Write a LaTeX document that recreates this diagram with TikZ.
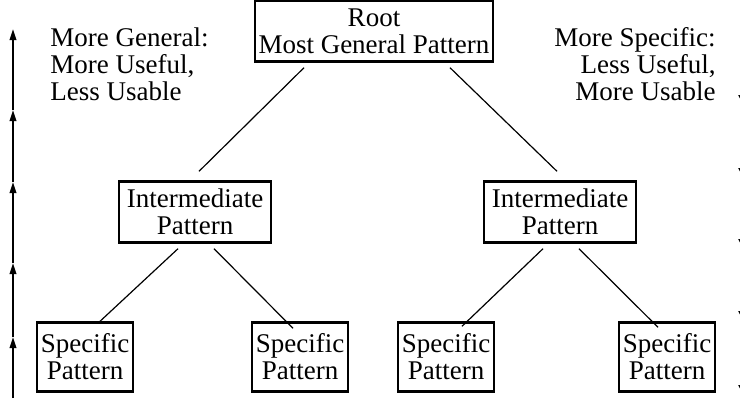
\documentclass[tikz,border=0pt]{standalone}
\usepackage{fontspec}
\setmainfont{Liberation Serif}
\usetikzlibrary{arrows.meta, calc}
\tikzset{
  box/.style={
    rectangle, draw, line width=1.2pt, inner sep=0pt,
    align=center, font=\fontsize{13.5}{13.5}\selectfont
  },
  rootbox/.style={box, minimum width=119pt, minimum height=30.5pt},
  midbox/.style={box, minimum width=76pt, minimum height=30.5pt},
  specbox/.style={box, minimum width=48pt, minimum height=34.5pt},
  lnk/.style={line width=0.6pt},
  arr/.style={-{Triangle[length=5.5pt,width=3.2pt]}, line width=1pt},
  darr/.style={arr, -{Triangle[length=5.5pt,width=5.6pt]}},
  lbl/.style={inner sep=0pt, font=\fontsize{13.5}{13.5}\selectfont}
}

\begin{document}
\begin{tikzpicture}[x=0.5pt, y=-0.5pt]
  \useasboundingbox (0,0) rectangle (740,402);

  \node[rootbox] (root) at (374,31) {Root\\Most General Pattern};

  \node[midbox] (intl) at (195,212) {Intermediate\\Pattern};
  \node[midbox] (intr) at (560,212) {Intermediate\\Pattern};

  \node[specbox] (spa) at (85,357)  {Specific\\Pattern};
  \node[specbox] (spb) at (300,357) {Specific\\Pattern};
  \node[specbox] (spc) at (446,357) {Specific\\Pattern};
  \node[specbox] (spd) at (667,357) {Specific\\Pattern};

  \node[lbl, anchor=north west, align=left] (gen) at (50,27)
        {More General:\\More Useful,\\Less Usable};
  \node[lbl, anchor=north east, align=right] (spec) at (716,27)
        {More Specific:\\Less Useful,\\More Usable};

  \draw[lnk] ($(root.south)+(-70,5)$) -- ($(intl.north)+(4,-9)$);
  \draw[lnk] ($(root.south)+(76,5)$)  -- ($(intr.north)+(-3,-9)$);

  \draw[lnk] ($(intl.south)+(-17,5)$) -- ($(spa.north)+(15,0)$);
  \draw[lnk] ($(intl.south)+(19,5)$)  -- ($(spb.north)+(-7,7)$);
  \draw[lnk] ($(intr.south)+(-17,5)$) -- ($(spc.north)+(16,5)$);
  \draw[lnk] ($(intr.south)+(19,5)$)  -- ($(spd.north)+(-9,6)$);

  \foreach \n/\p in {0/398,1/337,2/263,3/182,4/110,5/29}
    \coordinate (g\n) at (13,\p);
  \foreach \a/\b in {0/1,1/2,2/3,3/4,4/5}
    \draw[arr] (g\a) -- (g\b);

  \foreach \n/\p in {0/4,1/106,2/179,3/250,4/322,5/396}
    \coordinate (s\n) at (744,\p);
  \foreach \a/\b in {0/1,1/2,2/3,3/4,4/5}
    \draw[darr] (s\a) -- (s\b);

\end{tikzpicture}
\end{document}
